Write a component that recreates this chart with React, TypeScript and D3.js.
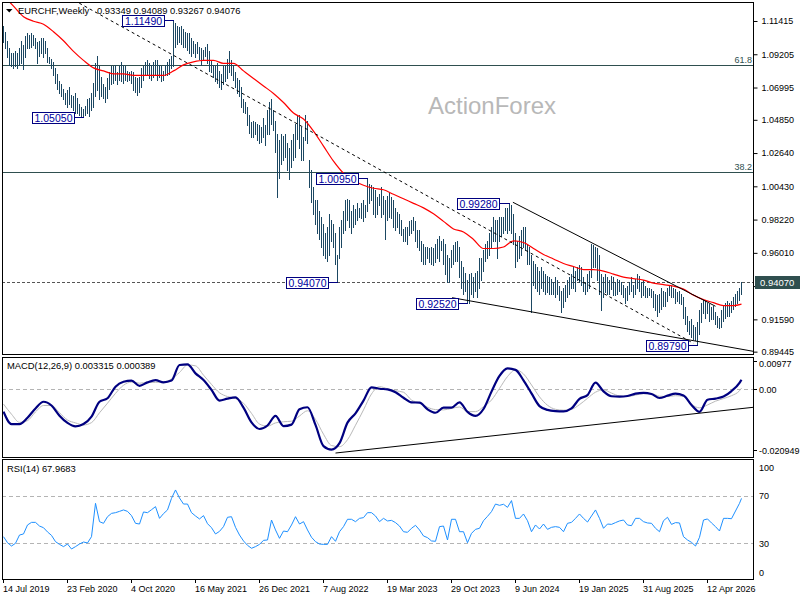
import * as d3 from 'd3';
import { useEffect, useRef } from 'react';

// weekly bars, first one is the week of 14 Jul 2019
const firstWeek = new Date(Date.UTC(2019, 6, 14));

const highs = [
  1.111, 1.107, 1.101, 1.096, 1.093, 1.093, 1.094, 1.093, 1.096, 1.101,
  1.098, 1.104, 1.106, 1.105, 1.106, 1.105, 1.103, 1.100, 1.101, 1.103,
  1.103, 1.101, 1.096, 1.090, 1.089, 1.087, 1.083, 1.079, 1.074, 1.072,
  1.069, 1.066, 1.068, 1.070, 1.065, 1.064, 1.066, 1.063, 1.059, 1.057,
  1.056, 1.058, 1.062, 1.063, 1.066, 1.073, 1.086, 1.091, 1.084, 1.077,
  1.072, 1.070, 1.076, 1.080, 1.084, 1.084, 1.085, 1.080, 1.084, 1.087,
  1.085, 1.084, 1.081, 1.080, 1.081, 1.080, 1.077, 1.076, 1.077, 1.083,
  1.084, 1.087, 1.088, 1.086, 1.085, 1.087, 1.088, 1.088, 1.085, 1.084,
  1.081, 1.085, 1.087, 1.089, 1.091, 1.1149, 1.113, 1.111, 1.110, 1.111,
  1.109, 1.107, 1.106, 1.106, 1.103, 1.101, 1.099, 1.100, 1.097, 1.096,
  1.095, 1.097, 1.099, 1.094, 1.088, 1.085, 1.084, 1.086, 1.081, 1.079,
  1.084, 1.085, 1.089, 1.094, 1.088, 1.085, 1.080, 1.076, 1.075, 1.070,
  1.062, 1.060, 1.057, 1.052, 1.047, 1.048, 1.047, 1.046, 1.045, 1.044,
  1.050, 1.045, 1.055, 1.060, 1.062, 1.055, 1.048, 1.039, 1.035, 1.039,
  1.038, 1.039, 1.033, 1.030, 1.035, 1.039, 1.046, 1.052, 1.052, 1.044,
  1.037, 1.052, 1.048, 1.022, 1.015, 1.004, 0.995, 0.995, 0.988, 0.984,
  0.979, 0.973, 0.977, 0.986, 0.982, 0.979, 0.973, 0.959, 0.977, 0.982,
  0.988, 0.995, 0.996, 0.995, 0.988, 0.992, 0.989, 0.993, 0.990, 0.993,
  0.995, 0.992, 1.0095, 1.006, 1.005, 1.004, 1.002, 0.997, 0.999, 1.004,
  0.998, 0.995, 0.998, 1.000, 0.997, 0.995, 0.990, 0.987, 0.986, 0.982,
  0.976, 0.977, 0.977, 0.981, 0.982, 0.984, 0.981, 0.975, 0.975, 0.968,
  0.966, 0.964, 0.964, 0.963, 0.964, 0.963, 0.966, 0.969, 0.971, 0.968,
  0.969, 0.966, 0.959, 0.957, 0.962, 0.965, 0.967, 0.968, 0.964, 0.955,
  0.951, 0.947, 0.942, 0.946, 0.947, 0.944, 0.947, 0.948, 0.957, 0.957,
  0.962, 0.966, 0.968, 0.973, 0.977, 0.984, 0.982, 0.982, 0.984, 0.984,
  0.984, 0.990, 0.990, 0.993, 0.992, 0.986, 0.973, 0.968, 0.971, 0.975,
  0.977, 0.977, 0.966, 0.964, 0.959, 0.955, 0.953, 0.951, 0.948, 0.951,
  0.948, 0.946, 0.945, 0.944, 0.943, 0.941, 0.944, 0.942, 0.938, 0.935,
  0.937, 0.939, 0.942, 0.944, 0.946, 0.951, 0.948, 0.951, 0.952, 0.951,
  0.944, 0.941, 0.946, 0.948, 0.966, 0.965, 0.964, 0.963, 0.959, 0.946,
  0.944, 0.946, 0.944, 0.942, 0.945, 0.944, 0.941, 0.943, 0.942, 0.941,
  0.939, 0.937, 0.938, 0.941, 0.944, 0.939, 0.943, 0.946, 0.945, 0.941,
  0.942, 0.938, 0.937, 0.937, 0.936, 0.935, 0.933, 0.932, 0.933, 0.937,
  0.935, 0.934, 0.937, 0.939, 0.938, 0.937, 0.936, 0.934, 0.935, 0.933,
  0.931, 0.924, 0.918, 0.915, 0.916, 0.912, 0.911, 0.914, 0.922, 0.927,
  0.929, 0.928, 0.927, 0.926, 0.924, 0.925, 0.921, 0.918, 0.917, 0.922,
  0.925, 0.927, 0.928, 0.927, 0.928, 0.931, 0.933, 0.935, 0.937, 0.94089,
];

const lows = [
  1.100, 1.096, 1.090, 1.085, 1.084, 1.083, 1.084, 1.083, 1.085, 1.086,
  1.082, 1.090, 1.096, 1.096, 1.097, 1.098, 1.096, 1.086, 1.091, 1.093,
  1.090, 1.093, 1.087, 1.086, 1.083, 1.078, 1.073, 1.069, 1.066, 1.064,
  1.062, 1.059, 1.057, 1.059, 1.057, 1.055, 1.053, 1.053, 1.052, 1.051,
  1.0505, 1.052, 1.053, 1.051, 1.055, 1.057, 1.064, 1.068, 1.062, 1.064,
  1.063, 1.060, 1.063, 1.069, 1.072, 1.073, 1.075, 1.072, 1.075, 1.074,
  1.073, 1.075, 1.074, 1.075, 1.073, 1.068, 1.067, 1.065, 1.067, 1.070,
  1.075, 1.078, 1.079, 1.076, 1.075, 1.077, 1.078, 1.075, 1.077, 1.074,
  1.075, 1.078, 1.078, 1.079, 1.083, 1.084, 1.097, 1.099, 1.100, 1.099,
  1.097, 1.097, 1.095, 1.093, 1.091, 1.093, 1.090, 1.093, 1.089, 1.085,
  1.089, 1.091, 1.086, 1.081, 1.080, 1.077, 1.074, 1.073, 1.070, 1.069,
  1.072, 1.074, 1.076, 1.080, 1.078, 1.075, 1.070, 1.066, 1.064, 1.057,
  1.054, 1.053, 1.045, 1.040, 1.037, 1.037, 1.039, 1.035, 1.033, 1.034,
  1.037, 1.032, 1.039, 1.039, 1.046, 1.042, 1.027, 0.997, 1.010, 1.019,
  1.022, 1.024, 1.015, 1.009, 1.017, 1.022, 1.024, 1.036, 1.030, 1.022,
  1.022, 1.035, 1.033, 1.004, 0.994, 0.986, 0.979, 0.973, 0.969, 0.964,
  0.959, 0.957, 0.955, 0.959, 0.968, 0.964, 0.953, 0.9407, 0.957, 0.964,
  0.973, 0.975, 0.982, 0.977, 0.973, 0.977, 0.979, 0.982, 0.984, 0.983,
  0.981, 0.984, 0.988, 0.993, 0.995, 0.986, 0.984, 0.986, 0.992, 0.984,
  0.986, 0.969, 0.982, 0.984, 0.983, 0.977, 0.975, 0.977, 0.973, 0.972,
  0.968, 0.968, 0.966, 0.972, 0.973, 0.975, 0.968, 0.964, 0.962, 0.955,
  0.953, 0.953, 0.957, 0.954, 0.953, 0.952, 0.954, 0.957, 0.955, 0.962,
  0.953, 0.946, 0.941, 0.941, 0.951, 0.953, 0.955, 0.955, 0.944, 0.937,
  0.933, 0.935, 0.927, 0.927, 0.933, 0.931, 0.935, 0.931, 0.937, 0.942,
  0.948, 0.955, 0.957, 0.959, 0.964, 0.968, 0.968, 0.957, 0.968, 0.971,
  0.973, 0.975, 0.973, 0.975, 0.973, 0.966, 0.951, 0.955, 0.957, 0.959,
  0.964, 0.962, 0.953, 0.953, 0.921, 0.939, 0.937, 0.935, 0.933, 0.937,
  0.935, 0.933, 0.934, 0.933, 0.933, 0.933, 0.931, 0.933, 0.929, 0.921,
  0.924, 0.928, 0.931, 0.933, 0.937, 0.937, 0.935, 0.942, 0.941, 0.939,
  0.935, 0.933, 0.935, 0.937, 0.944, 0.951, 0.951, 0.942, 0.933, 0.922,
  0.931, 0.934, 0.933, 0.933, 0.936, 0.932, 0.932, 0.933, 0.935, 0.933,
  0.931, 0.927, 0.929, 0.933, 0.935, 0.931, 0.933, 0.937, 0.935, 0.931,
  0.932, 0.931, 0.931, 0.932, 0.931, 0.924, 0.922, 0.918, 0.921, 0.923,
  0.925, 0.925, 0.928, 0.932, 0.931, 0.931, 0.927, 0.928, 0.927, 0.926,
  0.917, 0.913, 0.908, 0.906, 0.904, 0.903, 0.902, 0.899, 0.906, 0.914,
  0.920, 0.917, 0.920, 0.915, 0.916, 0.916, 0.913, 0.911, 0.910, 0.911,
  0.915, 0.917, 0.918, 0.918, 0.921, 0.923, 0.925, 0.927, 0.929, 0.93267,
];

const lastQuote = ['0.93349', '0.94089', '0.93267', '0.94076'];

// red moving average, read every 5 bars plus the last bar
const maStep = 5;
const maValues = [
  1.131, 1.124, 1.117, 1.114, 1.112, 1.107, 1.101, 1.094, 1.088, 1.083,
  1.081, 1.079, 1.079, 1.078, 1.078, 1.078, 1.078, 1.081, 1.085, 1.087,
  1.088, 1.088, 1.086, 1.086, 1.081, 1.076, 1.071, 1.066, 1.060, 1.053,
  1.049, 1.041, 1.031, 1.021, 1.013, 1.008, 1.005, 1.003, 1.002, 0.999,
  0.996, 0.993, 0.990, 0.986, 0.981, 0.976, 0.974, 0.969, 0.963, 0.963,
  0.964, 0.968, 0.967, 0.963, 0.959, 0.956, 0.953, 0.951, 0.949, 0.949,
  0.948, 0.946, 0.944, 0.943, 0.942, 0.940, 0.939, 0.938, 0.936, 0.932,
  0.929, 0.927, 0.925, 0.925, 0.926,
];

// MACD(12,26,9), read every 4 bars plus the last bar
const macdStep = 4;
const macdValues = [
  -0.0077, -0.0120, -0.0120, -0.0098, -0.0066, -0.0043, -0.0056, -0.0091, -0.0116, -0.0128,
  -0.0120, -0.0094, -0.0043, -0.0031, 0.0009, 0.0026, 0.0030, 0.0012, 0.0024, 0.0032,
  0.0024, 0.0030, 0.0084, 0.0086, 0.0055, 0.0032, -0.0002, -0.0039, -0.0032, -0.0028,
  -0.0063, -0.0114, -0.0137, -0.0125, -0.0092, -0.0127, -0.0122, -0.0069, -0.0062, -0.0123,
  -0.0196, -0.0208, -0.0186, -0.0115, -0.0083, -0.0039, 0.0007, 0.0002, 0.0000, -0.0010,
  -0.0029, -0.0045, -0.0046, -0.0069, -0.0081, -0.0063, -0.0063, -0.0045, -0.0078, -0.0092,
  -0.0068, -0.0008, 0.0046, 0.0072, 0.0067, 0.0031, -0.0014, -0.0058, -0.0071, -0.0075,
  -0.0076, -0.0066, -0.0033, -0.0020, 0.0023, -0.0007, -0.0024, -0.0025, -0.0023, -0.0015,
  -0.0012, -0.0016, -0.0030, -0.0022, -0.0015, -0.0021, -0.0054, -0.0078, -0.0036, -0.0032,
  -0.0025, -0.0006, 0.0022, 0.003315,
];
const signalValues = [
  -0.0051, -0.0086, -0.0114, -0.0108, -0.0078, -0.0056, -0.0056, -0.0081, -0.0106, -0.0116,
  -0.0123, -0.0115, -0.0081, -0.0048, -0.0014, 0.0014, 0.0025, 0.0021, 0.0024, 0.0024,
  0.0025, 0.0036, 0.0058, 0.0084, 0.0081, 0.0049, 0.0017, -0.0012, -0.0025, -0.0032,
  -0.0048, -0.0083, -0.0120, -0.0127, -0.0116, -0.0112, -0.0110, -0.0092, -0.0074, -0.0104,
  -0.0155, -0.0194, -0.0198, -0.0174, -0.0124, -0.0071, -0.0016, 0.0009, 0.0002, -0.0005,
  -0.0010, -0.0037, -0.0047, -0.0062, -0.0070, -0.0071, -0.0066, -0.0061, -0.0077, -0.0077,
  -0.0060, -0.0037, 0.0003, 0.0044, 0.0067, 0.0053, 0.0015, -0.0026, -0.0055, -0.0069,
  -0.0072, -0.0069, -0.0053, -0.0031, -0.0010, -0.0002, -0.0013, -0.0023, -0.0025, -0.0020,
  -0.0015, -0.0015, -0.0024, -0.0025, -0.0022, -0.0025, -0.0052, -0.0064, -0.0054, -0.0041,
  -0.0032, -0.0022, -0.0005, 0.000389,
];

// RSI(14), read every 2 bars plus the last bar
const rsiStep = 2;
const rsiValues = [
  35.6, 30.5, 27.7, 30.0, 37.0, 37.9, 45.5, 47.7, 47.7, 44.6,
  43.2, 39.6, 36.7, 31.4, 29.1, 27.2, 29.4, 25.2, 27.2, 29.4,
  31.1, 30.3, 35.6, 63.8, 48.3, 46.9, 52.5, 55.3, 55.9, 57.0,
  58.2, 57.0, 53.4, 46.9, 46.3, 56.5, 55.9, 58.4, 61.0, 51.1,
  55.1, 58.2, 68.0, 75.1, 68.3, 63.2, 63.2, 55.9, 53.1, 50.6,
  53.4, 46.6, 43.2, 37.9, 40.1, 44.1, 52.0, 52.5, 43.5, 37.0,
  32.0, 28.3, 25.8, 27.2, 29.1, 32.5, 32.8, 49.7, 41.3, 34.2,
  40.4, 39.8, 45.5, 52.5, 46.3, 48.3, 41.3, 35.1, 31.4, 29.4,
  29.1, 29.1, 35.6, 31.7, 39.8, 44.1, 50.3, 50.3, 48.3, 51.1,
  51.7, 55.9, 55.9, 53.1, 48.3, 51.1, 48.9, 49.4, 47.5, 44.6,
  39.8, 39.3, 42.7, 45.2, 41.3, 36.2, 34.8, 32.0, 31.7, 44.1,
  44.6, 32.8, 50.3, 50.3, 39.8, 39.8, 30.5, 38.4, 41.8, 42.7,
  49.1, 52.8, 56.8, 63.2, 62.1, 63.0, 60.4, 66.1, 51.1, 51.1,
  54.8, 49.1, 39.8, 45.5, 42.1, 46.3, 41.8, 43.5, 44.1, 43.5,
  39.8, 46.9, 47.7, 51.1, 54.8, 51.1, 48.0, 53.1, 58.2, 51.1,
  42.7, 46.3, 46.0, 47.5, 48.9, 49.7, 45.5, 44.9, 51.1, 51.1,
  48.3, 47.2, 46.9, 42.7, 39.8, 49.1, 52.0, 46.0, 47.5, 47.2,
  35.6, 32.8, 30.8, 27.7, 35.1, 49.7, 50.6, 47.2, 44.1, 40.4,
  51.1, 51.1, 50.8, 57.3, 63.8, 67.9683,
];

const priceTicks = [1.11415, 1.09205, 1.06995, 1.0485, 1.0264, 1.0043, 0.9822, 0.9601, 0.938, 0.9159, 0.89445];
const macdTicks = [0.00977, 0, -0.020949];
const rsiTicks = [100, 70, 30, 0];
const rsiLevels = [70, 30];
const currentPrice = 0.9407;
const dateTickEvery = 32;

const fibLevels = [
  { label: '61.8', value: 1.0849 },
  { label: '38.2', value: 1.0138 },
];

const swingLabels = [
  { bar: 85, kind: 'high', text: '1.11490' },
  { bar: 40, kind: 'low', text: '1.05050' },
  { bar: 182, kind: 'high', text: '1.00950' },
  { bar: 167, kind: 'low', text: '0.94070' },
  { bar: 253, kind: 'high', text: '0.99280' },
  { bar: 232, kind: 'low', text: '0.92520' },
  { bar: 347, kind: 'low', text: '0.89790' },
];

// [bar, price] end points
const priceTrendLines = [
  { from: [30, 1.1318], to: [345, 0.9], dashed: true },
  { from: [254.7, 0.9937], to: [356, 0.9246], dashed: false },
  { from: [224.3, 0.9303], to: [376, 0.8944], dashed: false },
];
const macdTrendLine = { from: [166, -0.022], to: [375, -0.0062] };

const FONT = "'Liberation Sans', Arial, sans-serif";
const BAR_COLOR = '#1b4762';
const FRAME = '#000000';

function sampleBars(step: number, count: number, lastBar: number) {
  const bars = d3.range(0, count - 1).map((k) => k * step);
  bars.push(lastBar);
  return bars;
}

export default function App(): React.ReactElement {
  const svgRef = useRef<SVGSVGElement>(null);

  useEffect(() => {
    if (!svgRef.current) return;
    const svg = d3.select(svgRef.current);
    svg.selectAll('*').remove();

    const width = 800;
    const height = 600;
    const left = 2;
    const right = 754;
    const main = { top: 2, bottom: 354 };
    const macdBox = { top: 357, bottom: 457 };
    const rsiBox = { top: 459, bottom: 579 };

    const n = highs.length;
    const last = n - 1;

    // Scales
    const x = d3.scaleLinear().domain([0, last]).range([3.5, 3.5 + 2 * last]);
    const y = d3.scaleLinear().domain([0.89289, 1.1281]).range([354, 0]);
    const yMacd = d3.scaleLinear().domain([-0.020949, 0.00977]).range([450, 361]);
    const yRsi = d3.scaleLinear().domain([0, 100]).range([578.8, 460.5]);

    svg.attr('width', width).attr('height', height);
    svg.append('rect').attr('width', width).attr('height', height).attr('fill', '#ffffff');

    const defs = svg.append('defs');
    const clip = (id: string, top: number, bottom: number) =>
      defs
        .append('clipPath')
        .attr('id', id)
        .append('rect')
        .attr('x', left)
        .attr('y', top)
        .attr('width', right - left)
        .attr('height', bottom - top);
    clip('clip-main', main.top, main.bottom);
    clip('clip-macd', macdBox.top, macdBox.bottom);
    clip('clip-rsi', rsiBox.top, rsiBox.bottom);

    // Watermark
    svg
      .append('text')
      .attr('x', 428)
      .attr('y', 114)
      .attr('font-family', FONT)
      .attr('font-size', 24)
      .attr('fill', '#b8b8b8')
      .text('ActionForex');

    const gMain = svg.append('g').attr('clip-path', 'url(#clip-main)');

    // Fibonacci levels
    fibLevels.forEach((f) => {
      gMain
        .append('line')
        .attr('x1', left)
        .attr('x2', right)
        .attr('y1', Math.round(y(f.value)) + 0.5)
        .attr('y2', Math.round(y(f.value)) + 0.5)
        .attr('stroke', '#2f4f4f')
        .attr('stroke-width', 1)
        .attr('shape-rendering', 'crispEdges');
      gMain
        .append('text')
        .attr('x', right - 2)
        .attr('y', y(f.value) - 2)
        .attr('text-anchor', 'end')
        .attr('font-family', FONT)
        .attr('font-size', 9)
        .attr('fill', '#2f4f4f')
        .text(f.label);
    });

    // Current price dashed line
    gMain
      .append('line')
      .attr('x1', left)
      .attr('x2', right)
      .attr('y1', Math.round(y(currentPrice)) + 0.5)
      .attr('y2', Math.round(y(currentPrice)) + 0.5)
      .attr('stroke', '#555555')
      .attr('stroke-dasharray', '3,2')
      .attr('shape-rendering', 'crispEdges');

    // Price bars
    gMain
      .selectAll('.bar')
      .data(d3.range(n))
      .enter()
      .append('line')
      .attr('class', 'bar')
      .attr('x1', (i) => x(i))
      .attr('x2', (i) => x(i))
      .attr('y1', (i) => Math.round(y(highs[i])))
      .attr('y2', (i) => Math.round(y(lows[i])) + 1)
      .attr('stroke', BAR_COLOR)
      .attr('stroke-width', 1)
      .attr('shape-rendering', 'crispEdges');

    // Moving average
    const maBars = sampleBars(maStep, maValues.length, last);
    gMain
      .append('path')
      .datum(maValues.map((v, k) => [maBars[k], v] as [number, number]))
      .attr('fill', 'none')
      .attr('stroke', '#ff0000')
      .attr('stroke-width', 1.2)
      .attr(
        'd',
        d3
          .line<[number, number]>()
          .x((d) => x(d[0]))
          .y((d) => y(d[1]))
          .curve(d3.curveMonotoneX)
      );

    // Trend lines
    priceTrendLines.forEach((t) => {
      gMain
        .append('line')
        .attr('x1', x(t.from[0]))
        .attr('y1', y(t.from[1]))
        .attr('x2', x(t.to[0]))
        .attr('y2', y(t.to[1]))
        .attr('stroke', '#000000')
        .attr('stroke-width', 1)
        .attr('stroke-dasharray', t.dashed ? '3,3' : null);
    });

    // Swing labels
    swingLabels.forEach((s) => {
      const bx = x(s.bar);
      const py = Math.round(y(s.kind === 'high' ? highs[s.bar] : lows[s.bar])) + 0.5;
      const bw = 42;
      const bh = 11;
      const boxRight = Math.round(bx) - 10 + 0.5;
      gMain
        .append('line')
        .attr('x1', boxRight)
        .attr('x2', bx)
        .attr('y1', py)
        .attr('y2', py)
        .attr('stroke', '#000080')
        .attr('shape-rendering', 'crispEdges');
      gMain
        .append('rect')
        .attr('x', boxRight - bw)
        .attr('y', py - bh / 2)
        .attr('width', bw)
        .attr('height', bh)
        .attr('fill', '#ffffff')
        .attr('stroke', '#000080')
        .attr('shape-rendering', 'crispEdges');
      gMain
        .append('text')
        .attr('x', boxRight - bw / 2)
        .attr('y', py + 4)
        .attr('text-anchor', 'middle')
        .attr('font-family', FONT)
        .attr('font-size', 10.5)
        .attr('fill', '#0000a0')
        .text(s.text);
    });

    // Header
    svg.append('path').attr('d', 'M6,9 L12.5,9 L9.25,12.5 Z').attr('fill', '#000000');
    svg
      .append('text')
      .attr('x', 18)
      .attr('y', 14)
      .attr('font-family', FONT)
      .attr('font-size', 9.4)
      .attr('fill', '#000000')
      .text('EURCHF,Weekly');
    svg
      .append('text')
      .attr('x', 97)
      .attr('y', 14)
      .attr('font-family', FONT)
      .attr('font-size', 9.4)
      .attr('fill', '#000000')
      .text(lastQuote.join(' '));

    // MACD panel
    const gMacd = svg.append('g').attr('clip-path', 'url(#clip-macd)');
    gMacd
      .append('line')
      .attr('x1', left)
      .attr('x2', right)
      .attr('y1', Math.round(yMacd(0)) + 0.5)
      .attr('y2', Math.round(yMacd(0)) + 0.5)
      .attr('stroke', '#b4b4b4')
      .attr('stroke-dasharray', '4,3');

    const macdBars = sampleBars(macdStep, macdValues.length, last);
    const macdLine = d3
      .line<[number, number]>()
      .x((d) => x(d[0]))
      .y((d) => yMacd(d[1]))
      .curve(d3.curveMonotoneX);

    gMacd
      .append('path')
      .datum(signalValues.map((v, k) => [macdBars[k], v] as [number, number]))
      .attr('fill', 'none')
      .attr('stroke', '#b9b9b9')
      .attr('stroke-width', 1)
      .attr('d', macdLine);
    gMacd
      .append('path')
      .datum(macdValues.map((v, k) => [macdBars[k], v] as [number, number]))
      .attr('fill', 'none')
      .attr('stroke', '#000080')
      .attr('stroke-width', 2.2)
      .attr('d', macdLine);
    gMacd
      .append('line')
      .attr('x1', x(macdTrendLine.from[0]))
      .attr('y1', yMacd(macdTrendLine.from[1]))
      .attr('x2', x(macdTrendLine.to[0]))
      .attr('y2', yMacd(macdTrendLine.to[1]))
      .attr('stroke', '#000000')
      .attr('stroke-width', 1);

    svg
      .append('text')
      .attr('x', 7)
      .attr('y', 368.5)
      .attr('font-family', FONT)
      .attr('font-size', 9.4)
      .text(`MACD(12,26,9) ${macdValues[macdValues.length - 1]} ${signalValues[signalValues.length - 1]}`);

    // RSI panel
    const gRsi = svg.append('g').attr('clip-path', 'url(#clip-rsi)');
    rsiLevels.forEach((lv) => {
      gRsi
        .append('line')
        .attr('x1', left)
        .attr('x2', right)
        .attr('y1', Math.round(yRsi(lv)) + 0.5)
        .attr('y2', Math.round(yRsi(lv)) + 0.5)
        .attr('stroke', '#b4b4b4')
        .attr('stroke-dasharray', '4,3');
    });
    const rsiBars = sampleBars(rsiStep, rsiValues.length, last);
    gRsi
      .append('path')
      .datum(rsiValues.map((v, k) => [rsiBars[k], v] as [number, number]))
      .attr('fill', 'none')
      .attr('stroke', '#1e90ff')
      .attr('stroke-width', 1)
      .attr(
        'd',
        d3
          .line<[number, number]>()
          .x((d) => x(d[0]))
          .y((d) => yRsi(d[1]))
      );
    svg
      .append('text')
      .attr('x', 7)
      .attr('y', 472)
      .attr('font-family', FONT)
      .attr('font-size', 9.4)
      .text(`RSI(14) ${rsiValues[rsiValues.length - 1]}`);

    // Frames
    [main, macdBox, rsiBox].forEach((b) => {
      svg
        .append('rect')
        .attr('x', left + 0.5)
        .attr('y', b.top + 0.5)
        .attr('width', right - left - 1)
        .attr('height', b.bottom - b.top)
        .attr('fill', 'none')
        .attr('stroke', FRAME)
        .attr('stroke-width', 1)
        .attr('shape-rendering', 'crispEdges');
    });

    // Right price axis
    const priceAxis = svg
      .append('g')
      .attr('transform', `translate(${right - 0.5},0)`)
      .call(
        d3
          .axisRight(y)
          .tickValues(priceTicks)
          .tickSize(4)
          .tickPadding(4)
          .tickFormat((d) => d3.format('.5f')(d as number))
      );
    priceAxis.select('.domain').remove();
    priceAxis.selectAll('.tick line').attr('stroke', '#000000');
    priceAxis
      .selectAll('.tick text')
      .attr('fill', '#000000')
      .attr('font-family', FONT)
      .attr('font-size', 9);

    // Current price marker
    const cy = Math.round(y(currentPrice)) + 0.5;
    svg
      .append('rect')
      .attr('x', 755)
      .attr('y', cy - 6.5)
      .attr('width', 45)
      .attr('height', 13)
      .attr('fill', '#2f4f4f');
    svg
      .append('text')
      .attr('x', 760)
      .attr('y', cy + 3.5)
      .attr('font-family', FONT)
      .attr('font-size', 9.5)
      .attr('fill', '#ffffff')
      .text(d3.format('.5f')(currentPrice));

    // MACD axis labels
    macdTicks.forEach((v) => {
      const ty = Math.min(Math.max(yMacd(v), macdBox.top + 6), macdBox.bottom - 6);
      svg
        .append('line')
        .attr('x1', right)
        .attr('x2', right + 3)
        .attr('y1', Math.round(yMacd(v)) + 0.5)
        .attr('y2', Math.round(yMacd(v)) + 0.5)
        .attr('stroke', '#000000');
      svg
        .append('text')
        .attr('x', 759)
        .attr('y', ty + 3.5)
        .attr('font-family', FONT)
        .attr('font-size', 9)
        .text(v === 0 ? '0.00' : String(v));
    });

    // RSI axis labels
    rsiTicks.forEach((v) => {
      const ty = Math.min(Math.max(yRsi(v), rsiBox.top + 8), rsiBox.bottom - 6.5);
      svg
        .append('text')
        .attr('x', 759)
        .attr('y', ty + 3.5)
        .attr('font-family', FONT)
        .attr('font-size', 9)
        .text(String(v));
    });

    // Date axis
    const fmt = d3.utcFormat('%-d %b %Y');
    const dateBars = d3.range(0, n, dateTickEvery);
    dateBars.forEach((i) => {
      const tx = x(i);
      svg
        .append('line')
        .attr('x1', tx)
        .attr('x2', tx)
        .attr('y1', rsiBox.bottom)
        .attr('y2', rsiBox.bottom + 4)
        .attr('stroke', '#000000');
      svg
        .append('text')
        .attr('x', tx - 0.5)
        .attr('y', 592)
        .attr('font-family', FONT)
        .attr('font-size', 9)
        .text(fmt(d3.utcWeek.offset(firstWeek, i)));
    });
  }, []);

  return (
    <svg
      ref={svgRef}
      style={{ position: 'absolute', left: 0, top: 0, display: 'block' }}
    />
  );
}
